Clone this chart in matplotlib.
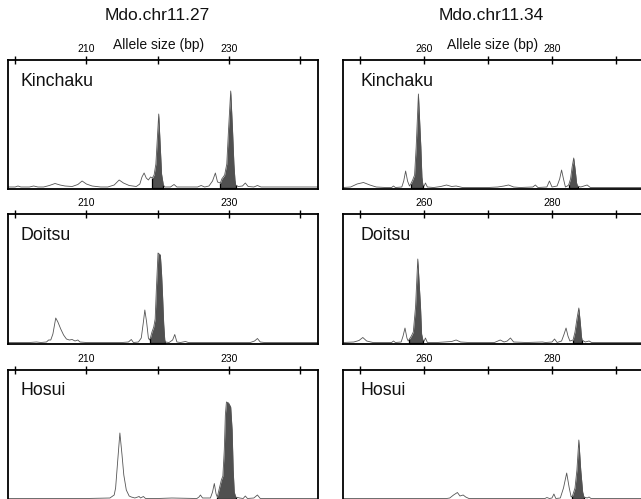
import numpy as np
import matplotlib
matplotlib.use("Agg")
import matplotlib.pyplot as plt

plt.rcParams['font.family'] = ['Liberation Sans', 'DejaVu Sans']

# marker names, cultivar names
markers = ['Mdo.chr11.27', 'Mdo.chr11.34']
cultivars = ['Kinchaku', 'Doitsu', 'Hosui']

# allele size axes (bp)
ticks_27 = [200, 210, 220, 230, 240]
labels_27 = ['', '210', '', '230', '']
ticks_34 = [250, 260, 270, 280, 290]
labels_34 = ['', '260', '', '280', '']
xlim_27 = (199.0, 242.5)
xlim_34 = (247.3, 296.9)

# electropherogram traces: size (bp), signal (arbitrary units)
kin27_bp = [199.0, 200.0, 200.4, 200.8, 202.0, 202.6, 203.2, 204.0, 204.8, 205.6, 206.3, 207.0,
            208.0, 208.8, 209.4, 210.0, 210.8, 212.0, 213.0, 213.9, 214.6, 215.2, 216.0, 217.0,
            217.5, 217.8, 218.1, 218.4, 218.7, 219.0, 219.26, 219.5, 219.75, 219.95, 220.15,
            220.35, 220.55, 220.8, 221.0, 221.8, 222.3, 222.7, 224.0, 225.6, 226.1, 226.6, 227.2,
            227.7, 228.1, 228.4, 228.8, 229.0, 229.4, 229.7, 229.95, 230.25, 230.5, 230.7, 230.85,
            230.95, 231.3, 231.9, 232.3, 232.7, 233.5, 234.0, 234.5, 236.0, 242.5]
kin27_sig = [2, 2, 3, 2, 2, 3, 2, 2, 3.5, 5.5, 4, 3,
             2.5, 4.5, 8, 5, 3, 2, 2, 4, 9, 6, 3.5, 2.5,
             5, 12, 16, 11, 9, 12, 11, 14, 25, 50, 75,
             45, 15, 4, 2, 2, 4.5, 2, 2, 2, 3.5, 2, 3,
             8, 16, 7, 6, 10, 14, 25, 60, 98, 60, 25, 9,
             4, 2.5, 3, 6, 2.5, 2, 3.5, 2, 2, 2]
kin27_fill = [(219.26, 220.8), (228.8, 230.95)]

doi27_bp = [199.0, 202.0, 203.0, 203.6, 204.4, 204.7, 205.0, 205.3, 205.7, 206.0, 206.4, 206.8,
            207.2, 207.6, 208.0, 208.4, 208.8, 209.1, 210.0, 215.0, 215.9, 216.3, 216.6, 217.3,
            217.7, 218.0, 218.2, 218.45, 218.7, 218.85, 218.98, 219.2, 219.45, 219.65, 219.82,
            220.05, 220.38, 220.55, 220.68, 220.85, 221.0, 221.1, 221.6, 222.1, 222.4, 222.7,
            223.2, 223.9, 224.3, 233.0, 233.6, 234.0, 234.4, 235.0, 242.5]
doi27_sig = [1.5, 1.5, 2, 1.5, 2, 4, 4, 10, 26, 22, 15, 9,
             5, 4, 4.5, 3, 4, 2, 1.5, 1.5, 2, 4.5, 1.5, 2,
             6, 22, 34, 22, 6, 4, 6, 12, 17, 25, 55,
             91, 89, 70, 50, 20, 4, 2, 1.5, 4, 9.5, 2,
             1.5, 2.5, 1.5, 1.5, 3, 5.5, 2, 1.5, 1.5]
doi27_fill = [(218.98, 221.1)]

hos27_bp = [199.0, 205.0, 210.0, 213.3, 213.9, 214.1, 214.37, 214.7, 215.0, 215.25, 215.6, 216.0,
            216.3, 216.8, 217.4, 217.6, 218.0, 218.3, 220.0, 222.0, 225.5, 225.8, 226.0, 226.3,
            227.4, 227.7, 227.95, 228.2, 228.37, 228.6, 228.94, 229.15, 229.35, 229.5, 229.65,
            229.95, 230.25, 230.45, 230.6, 230.75, 230.95, 231.5, 232.0, 232.3, 232.6, 233.5,
            234.0, 234.4, 242.5]
hos27_sig = [1.5, 1.5, 1.5, 2, 5, 12, 37, 67, 45, 25, 10, 4,
             3, 2, 3.5, 2, 3.5, 1.5, 1.5, 2, 1.5, 3, 5, 2,
             2, 8, 16.5, 6, 3, 10, 20, 24, 50, 85, 98,
             97, 93, 70, 30, 8, 3, 2, 1.5, 4, 1.5, 2,
             5, 1.5, 1.5]
hos27_fill = [(228.37, 230.95)]

kin34_bp = [247.3, 248.5, 249.5, 250.5, 251.5, 252.5, 254.0, 254.9, 255.2, 255.5, 256.5, 256.8,
            257.1, 257.4, 257.7, 257.9, 258.2, 258.5, 258.75, 259.1, 259.48, 259.65, 259.8, 260.0,
            260.2, 260.5, 261.5, 262.6, 263.5, 264.3, 265.0, 266.0, 270.0, 271.5, 272.5, 273.2,
            274.0, 275.0, 277.0, 277.4, 277.8, 279.2, 279.6, 280.0, 280.8, 281.2, 281.5, 281.8,
            282.1, 282.4, 282.6, 282.9, 283.15, 283.4, 283.65, 283.85, 284.0, 284.5, 285.5, 286.0,
            296.9]
kin34_sig = [1.5, 2, 5, 6.5, 4, 2, 1.5, 1.5, 3, 1.5, 2, 8,
             18, 8, 3, 5, 9, 14, 42, 95, 42, 12, 4, 3,
             6, 2, 1.5, 2.5, 4, 2.5, 3, 1.5, 1.5, 2, 3, 4,
             2, 1.5, 2, 4, 1.5, 2, 8, 2, 3, 10, 19, 10,
             2, 3, 4, 10, 22, 31, 18, 6, 3, 2, 4, 1.5,
             1.5]
kin34_fill = [(257.9, 259.8), (282.6, 284.0)]

doi34_bp = [247.3, 249.0, 249.8, 250.4, 251.0, 252.0, 254.9, 255.2, 255.5, 256.4, 256.7, 257.0,
            257.3, 257.5, 257.7, 258.0, 258.3, 258.65, 259.0, 259.43, 259.6, 259.8, 260.0, 260.2,
            260.5, 262.0, 264.3, 265.0, 265.7, 267.0, 271.0, 271.9, 272.5, 273.0, 273.5, 274.0,
            276.0, 278.5, 279.0, 280.0, 280.4, 280.8, 281.5, 281.9, 282.2, 282.5, 282.8, 283.3,
            283.6, 283.9, 284.2, 284.45, 284.6, 284.7, 285.2, 285.8, 286.2, 296.9]
doi34_sig = [1.5, 2, 3.5, 6.5, 3, 1.5, 1.5, 3, 1.5, 2, 8, 16,
             6, 3, 5, 8, 12, 37, 85, 37, 10, 4, 3, 6,
             1.5, 1.5, 2.5, 4, 2, 1.5, 1.5, 4, 2, 3, 6, 2,
             1.5, 2, 1.5, 2, 5, 1.5, 3, 10, 16, 8, 3, 4,
             12, 25, 36, 20, 8, 4, 2, 3, 1.5, 1.5]
doi34_fill = [(257.7, 259.8), (283.3, 284.7)]

hos34_bp = [247.3, 262.0, 263.5, 264.0, 264.6, 265.2, 265.6, 266.1, 266.5, 267.0, 270.0, 278.9,
            279.2, 279.6, 280.0, 280.3, 280.6, 281.3, 281.8, 282.3, 282.7, 283.0, 283.2, 283.6,
            283.9, 284.2, 284.5, 284.8, 285.0, 285.5, 285.8, 286.1, 296.9]
hos34_sig = [1.5, 1.5, 1.5, 2, 5, 7.5, 4, 5, 3, 1.5, 1.5, 1.5,
             2.5, 1.5, 2, 6, 1.5, 2, 12, 27, 12, 3, 4, 12,
             30, 60, 30, 8, 3, 2, 3, 1.5, 1.5]
hos34_fill = [(283.2, 285.0)]

traces = [
    [(kin27_bp, kin27_sig, kin27_fill), (kin34_bp, kin34_sig, kin34_fill)],
    [(doi27_bp, doi27_sig, doi27_fill), (doi34_bp, doi34_sig, doi34_fill)],
    [(hos27_bp, hos27_sig, hos27_fill), (hos34_bp, hos34_sig, hos34_fill)],
]

W, H = 641, 499
fig = plt.figure(figsize=(W / 100, H / 100), dpi=100)

# panel boxes in pixels: (left, right) per column, (top, bottom) per row
cols_px = [(8, 318), (343, 660)]
rows_px = [(60, 189), (214, 344), (370, 500)]

for r, (top, bot) in enumerate(rows_px):
    for c, (left, right) in enumerate(cols_px):
        ax = fig.add_axes([left / W, 1 - bot / H, (right - left) / W, (bot - top) / H])
        bp, sig, fills = traces[r][c]
        bp = np.array(bp)
        sig = np.array(sig)
        for a, b in fills:
            m = (bp >= a) & (bp <= b)
            ax.fill_between(bp[m], 0, sig[m], color='#505050', lw=0)
            ax.vlines([a, b], 0, np.interp([a, b], bp, sig), color='black', lw=0.9)
            ax.hlines(0.4, a, b, color='black', lw=1.6)
        ax.plot(bp, sig, color='#555555', lw=0.6)
        ax.set_ylim(0, bot - top)
        if c == 0:
            ax.set_xlim(*xlim_27)
            ax.set_xticks(ticks_27, labels_27)
        else:
            ax.set_xlim(*xlim_34)
            ax.set_xticks(ticks_34, labels_34)
        ax.set_yticks([])
        ax.tick_params(axis='x', top=True, labeltop=True, bottom=False, labelbottom=False,
                       direction='inout', length=6, width=1.0, labelsize=7.5, pad=1)
        for s in ax.spines.values():
            s.set_linewidth(1.3)
        ax.annotate(cultivars[r], xy=(0, 1), xycoords='axes fraction',
                    xytext=(12 if c == 0 else 17, -21), textcoords='offset pixels',
                    ha='left', va='center', fontsize=12.8, color='#111111')

# marker titles and axis labels
fig.text(157 / W, 1 - 16 / H, markers[0], ha='center', va='center', fontsize=12.5, color='#111111')
fig.text(491 / W, 1 - 16 / H, markers[1], ha='center', va='center', fontsize=12.5, color='#111111')
fig.text(159 / W, 1 - 45 / H, 'Allele size (bp)', ha='center', va='center', fontsize=10, color='#111111')
fig.text(493 / W, 1 - 45 / H, 'Allele size (bp)', ha='center', va='center', fontsize=10, color='#111111')

fig.savefig('out.png', dpi=100)
